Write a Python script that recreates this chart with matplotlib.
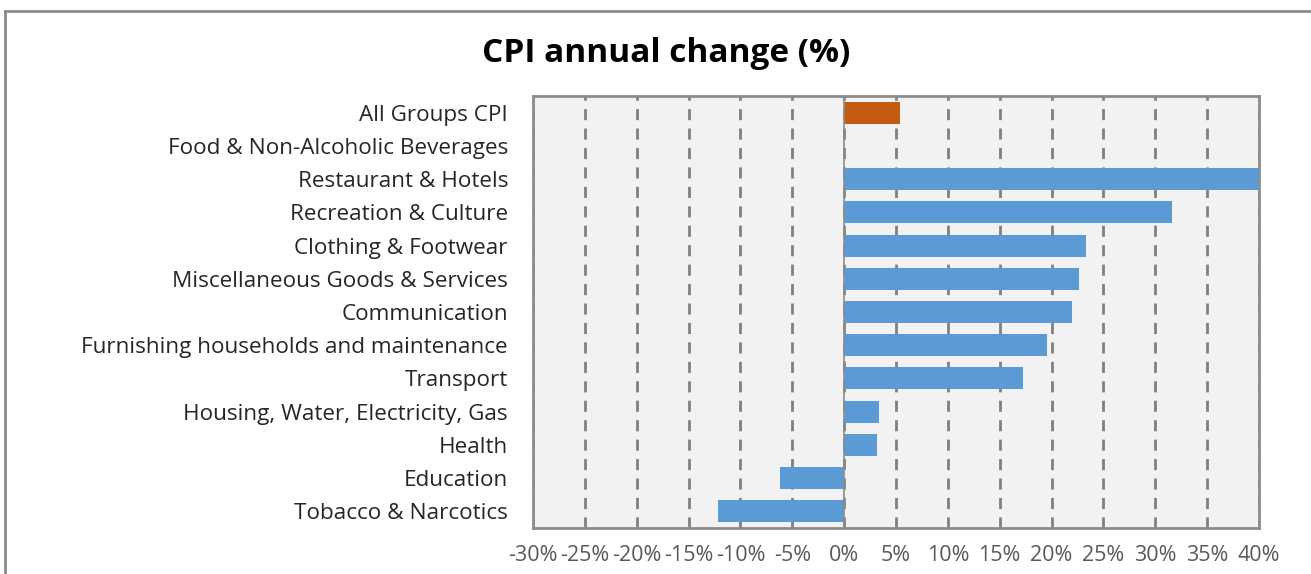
import matplotlib
matplotlib.use('Agg')
import matplotlib.pyplot as plt
from matplotlib.lines import Line2D
from matplotlib.ticker import MultipleLocator, FuncFormatter

categories = ['All Groups CPI', 'Food & Non-Alcoholic Beverages', 'Restaurant & Hotels',
              'Recreation & Culture', 'Clothing & Footwear', 'Miscellaneous Goods & Services',
              'Communication', 'Furnishing households and maintenance', 'Transport',
              'Housing, Water, Electricity, Gas', 'Health', 'Education', 'Tobacco & Narcotics']
changes = [5.4, 0.0, 41.0, 31.6, 23.3, 22.6, 22.0, 19.6, 17.2, 3.4, 3.2, -6.2, -12.2]
bar_colors = ['#c55a11'] + ['#5b9bd5'] * (len(categories) - 1)

plt.rcParams['font.family'] = ['Open Sans', 'DejaVu Sans']

fig = plt.figure(figsize=(13.11, 5.74), dpi=100)
ax = fig.add_axes([533 / 1311, 1 - 528 / 574, 726 / 1311, 432 / 574])
ax.set_facecolor('#f2f2f2')

ypos = range(len(categories))
ax.barh(ypos, changes, height=0.66, color=bar_colors, zorder=3)
ax.set_ylim(len(categories) - 0.5, -0.5)
ax.set_xlim(-30, 40)
ax.xaxis.set_major_locator(MultipleLocator(5))
ax.xaxis.set_major_formatter(FuncFormatter(lambda v, p: '%d%%' % round(v)))
ax.set_yticks(list(ypos))
ax.set_yticklabels(categories, fontsize=16.2, color='#262626')
ax.tick_params(axis='y', length=0, pad=18)
ax.tick_params(axis='x', length=0, pad=12, labelsize=15.5, labelcolor='#595959')

ax.grid(axis='x', color='#808080', linestyle=(0, (4, 3)), linewidth=2, zorder=1)
ax.axvline(0, color='#8c8c8c', linewidth=1.2, zorder=4)
for s in ax.spines.values():
    s.set_color('#8c8c8c')
    s.set_linewidth(2)

fig.text(666 / 1311, 1 - 54 / 574, 'CPI annual change (%)', ha='center', va='center',
         fontsize=24, fontweight='bold', color='#000000')

# outer chart frame (cropped)
fig.add_artist(Line2D([5 / 1311, 5 / 1311], [0, 1 - 11 / 574], color='#8c8c8c', linewidth=2,
                      transform=fig.transFigure))
fig.add_artist(Line2D([5 / 1311, 1], [1 - 11 / 574, 1 - 11 / 574], color='#8c8c8c', linewidth=2,
                      transform=fig.transFigure))

fig.savefig('out.png', dpi=100)
